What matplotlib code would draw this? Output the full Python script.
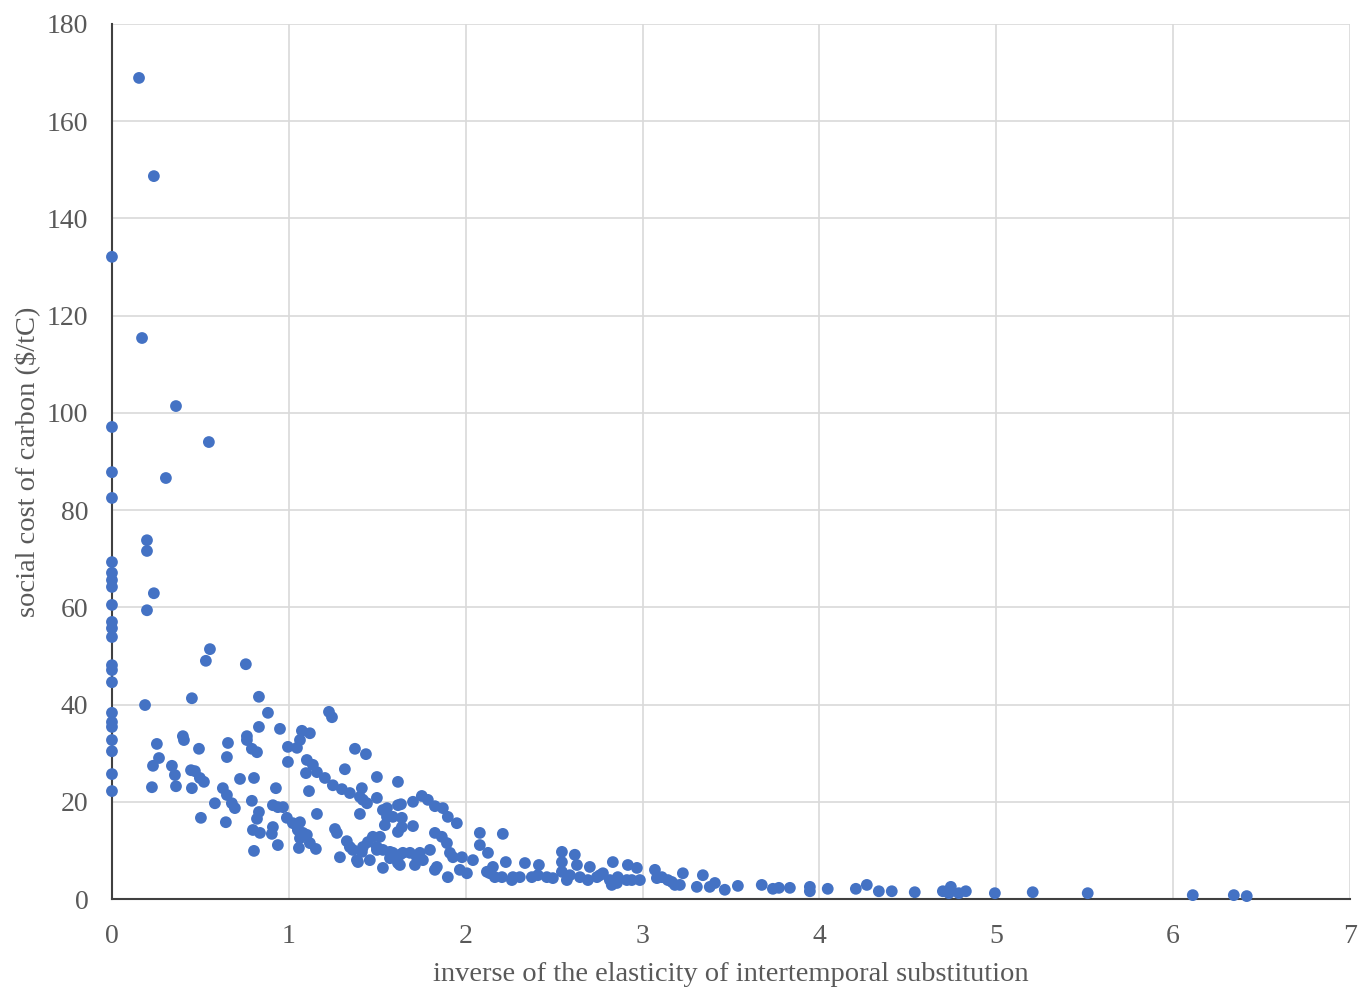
import numpy as np
import matplotlib
matplotlib.use('Agg')
import matplotlib.pyplot as plt

plt.rcParams['font.family'] = ['Liberation Serif', 'DejaVu Serif']

# readings at eis inverse = 0
y_at_zero = [132.1, 97.1, 87.8, 82.5, 69.3, 67.1, 65.6, 64.2, 60.5, 57.0,
             55.7, 53.9, 48.1, 47.1, 44.6, 38.3, 36.4, 35.4, 32.7, 30.4,
             25.7, 22.2]

# remaining (x, y) readings
x_rest = [0.153, 0.237, 0.170, 0.362, 0.548, 0.305, 0.198, 0.198, 0.237, 0.198,
          0.554, 0.531, 0.757, 0.187, 0.452, 0.831, 0.882, 0.950, 0.831, 1.227,
          1.244, 0.401, 0.407, 0.254, 0.492, 0.763, 0.763, 0.656, 0.791, 0.820,
          0.650, 0.266, 0.232, 0.339, 0.356, 0.447, 0.469, 0.497, 0.520, 0.362,
          0.226, 0.452, 0.724, 0.803, 0.995, 1.046, 1.074, 1.119, 1.063, 0.995,
          1.102, 1.136, 1.097, 1.159, 1.204, 1.114, 1.249, 1.300, 1.374, 1.436,
          1.317, 1.498, 1.413, 1.345, 1.402, 1.442, 1.498, 1.555, 1.402, 1.617,
          1.617, 0.627, 0.650, 0.678, 0.695, 0.582, 0.503, 0.644, 0.791, 0.831,
          0.820, 0.797, 0.837, 0.803, 0.910, 0.938, 0.967, 0.927, 0.989, 0.910,
          0.904, 0.938, 1.023, 1.063, 1.051, 1.080, 1.063, 1.102, 1.057, 1.119,
          1.153, 1.159, 1.261, 1.272, 1.328, 1.289, 1.362, 1.413, 1.391, 1.447,
          1.475, 1.498, 1.532, 1.532, 1.555, 1.588, 1.532, 1.617, 1.617, 1.588,
          1.572, 1.515, 1.543, 1.639, 1.639, 1.702, 1.634, 1.702, 1.752, 1.786,
          1.826, 1.871, 1.899, 1.950, 1.572, 1.628, 1.685, 1.741, 1.798, 1.826,
          1.865, 1.894, 1.911, 1.628, 1.713, 1.826, 1.899, 1.967, 2.007, 1.979,
          2.041, 2.080, 2.080, 2.126, 2.210, 2.227, 2.137, 2.165, 2.205, 2.261,
          2.306, 2.335, 2.374, 2.414, 2.459, 2.493, 2.544, 2.544, 2.544, 2.572,
          2.617, 2.629, 2.646, 2.702, 2.742, 2.776, 2.832, 2.815, 2.855, 2.917,
          2.968, 2.911, 2.985, 3.070, 3.081, 3.143, 3.183, 2.120, 2.154, 2.267,
          2.408, 2.589, 2.691, 2.759, 2.826, 2.860, 2.939, 3.109, 3.166, 3.228,
          3.211, 3.307, 3.341, 3.380, 3.409, 3.465, 3.539, 3.674, 3.737, 3.771,
          3.833, 3.946, 3.946, 4.047, 4.206, 4.268, 4.336, 4.409, 4.539, 4.698,
          4.743, 4.732, 4.788, 4.828, 4.992, 5.206, 5.517, 6.111, 6.343, 6.416,
          1.345, 1.385, 1.419, 1.458, 1.498, 1.645, 1.724, 1.758, 1.837, 1.928,
          1.419]
y_rest = [168.9, 148.7, 115.4, 101.4, 94.0, 86.6, 73.8, 71.6, 62.9, 59.4,
          51.4, 49.0, 48.3, 39.9, 41.3, 41.6, 38.3, 35.0, 35.4, 38.5,
          37.4, 33.5, 32.7, 31.9, 30.9, 33.5, 32.7, 32.1, 30.9, 30.2,
          29.2, 29.0, 27.4, 27.4, 25.5, 26.5, 26.3, 24.9, 24.1, 23.2,
          23.0, 22.8, 24.7, 24.9, 31.3, 31.1, 34.6, 34.1, 32.7, 28.2,
          28.6, 27.6, 25.9, 26.1, 24.9, 22.2, 23.4, 22.6, 30.9, 29.8,
          26.7, 25.1, 22.8, 21.8, 21.0, 19.7, 20.8, 18.7, 17.5, 24.1,
          19.3, 22.8, 21.4, 19.7, 18.7, 19.7, 16.7, 15.8, 20.2, 17.9,
          16.5, 14.2, 13.6, 9.9, 19.3, 18.9, 18.9, 22.8, 16.7, 14.8,
          13.4, 11.1, 15.6, 15.8, 14.2, 13.6, 12.5, 13.2, 10.5, 11.5,
          10.3, 17.5, 14.4, 13.6, 11.9, 8.6, 10.1, 9.7, 7.6, 11.7,
          12.8, 10.1, 10.1, 6.4, 16.9, 16.9, 18.3, 13.8, 7.4, 9.5,
          8.4, 12.8, 15.2, 16.7, 14.8, 15.0, 19.5, 20.0, 21.2, 20.4,
          19.1, 18.7, 16.9, 15.6, 9.7, 9.1, 9.5, 9.5, 10.1, 13.6,
          12.8, 11.5, 9.5, 7.0, 7.0, 6.0, 4.5, 6.0, 5.3, 8.6,
          8.0, 13.6, 11.1, 9.5, 13.4, 7.6, 5.3, 4.5, 4.5, 3.9,
          4.5, 7.4, 4.5, 7.0, 4.5, 4.3, 9.7, 7.6, 5.6, 3.9,
          9.1, 7.0, 4.5, 6.6, 4.5, 5.3, 7.6, 3.9, 3.3, 7.0,
          6.4, 3.9, 3.9, 6.0, 4.3, 3.9, 2.9, 5.6, 6.6, 4.5,
          4.9, 4.9, 3.9, 4.9, 2.9, 4.5, 3.9, 4.5, 3.5, 5.3,
          2.9, 2.5, 4.9, 2.5, 3.3, 1.9, 2.7, 2.9, 2.1, 2.3,
          2.3, 2.5, 1.6, 2.1, 2.1, 2.9, 1.6, 1.6, 1.4, 1.6,
          2.5, 1.2, 1.2, 1.6, 1.2, 1.4, 1.2, 0.8, 0.8, 0.6,
          10.7, 8.0, 10.7, 8.0, 10.7, 9.5, 8.6, 8.0, 6.6, 8.6,
          20.4]

x_vals = [0.0] * len(y_at_zero) + x_rest
y_vals = y_at_zero + y_rest

fig = plt.figure(figsize=(13.62, 9.9), dpi=100)
ax = fig.add_axes([0.0822, 0.0919, 0.909, 0.8839])

ax.scatter(x_vals, y_vals, s=72, color='#4472C4', edgecolors='none',
           zorder=3, clip_on=False)

ax.set_xlim(0, 7)
ax.set_ylim(0, 180)
ax.set_xticks(np.arange(0, 8, 1))
ax.set_yticks(np.arange(0, 181, 20))

ax.grid(True, color='#d9d9d9', linewidth=1.2, zorder=0)
ax.set_axisbelow(True)
for side in ['top', 'right']:
    ax.spines[side].set_visible(False)
for side in ['left', 'bottom']:
    ax.spines[side].set_color('#404040')
    ax.spines[side].set_linewidth(1.5)
    ax.spines[side].set_zorder(2)

ax.tick_params(axis='both', length=0, labelsize=20, colors='#595959')
ax.tick_params(axis='x', pad=18)
ax.tick_params(axis='y', pad=17)

ax.set_xlabel('inverse of the elasticity of intertemporal substitution',
              fontsize=20.5, color='#595959', labelpad=9)
ax.set_ylabel(r'social cost of carbon (\$/tC)', fontsize=20.5, color='#595959',
              labelpad=5)

fig.savefig('out.png', dpi=100)
